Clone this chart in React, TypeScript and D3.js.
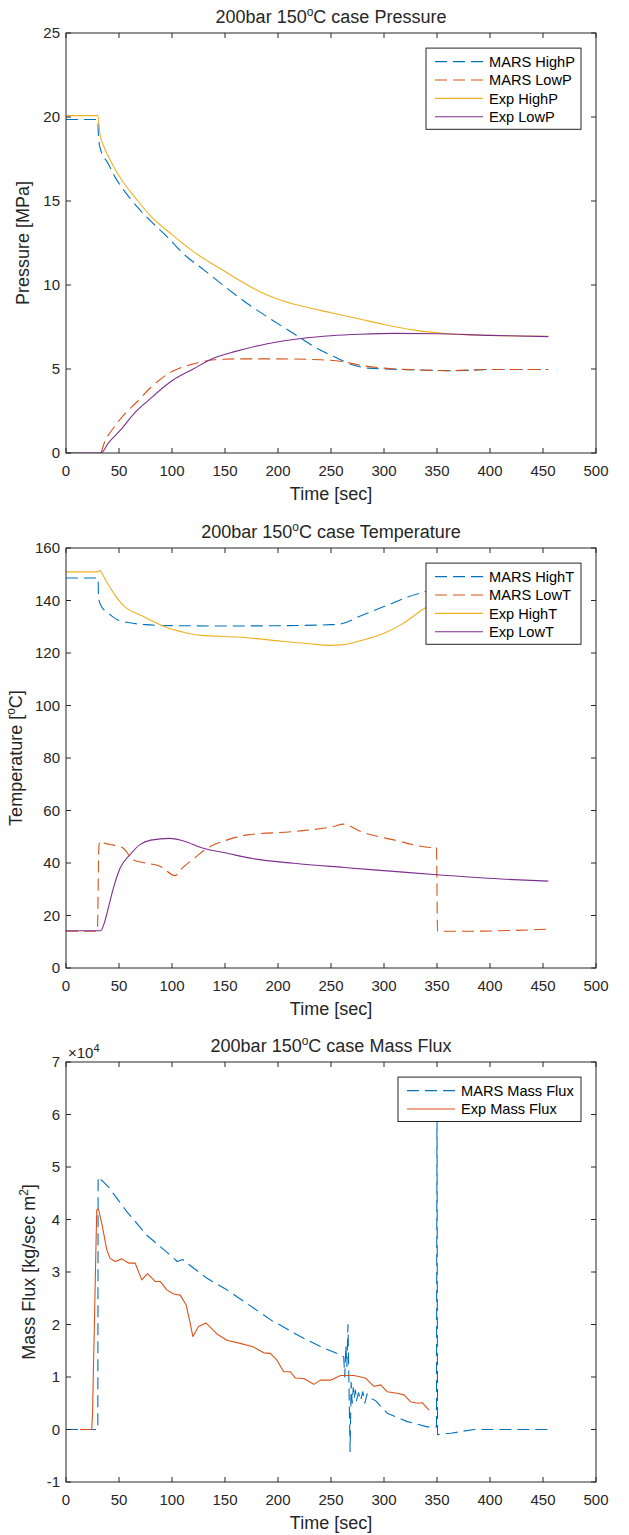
import * as d3 from "d3";

type Pt = [number, number];

const width = 629;
const height = 1535;
const marginLeft = 66;
const marginRight = 33;
const plotHeight = 420;
const font = "'Liberation Sans', Arial, Helvetica, sans-serif";
const ink = "#262626";

const blue = "#0072BD";
const orange = "#D95319";
const yellow = "#EDB120";
const purple = "#7E2F8E";

// tick labels
const timeTicks = [0, 50, 100, 150, 200, 250, 300, 350, 400, 450, 500];
const pressureTicks = [0, 5, 10, 15, 20, 25];
const temperatureTicks = [0, 20, 40, 60, 80, 100, 120, 140, 160];
const fluxTicks = [-1, 0, 1, 2, 3, 4, 5, 6, 7]; // x 10^4

// Pressure [MPa] vs time [sec]
const marsHighP: Pt[] = [
	[0, 19.85], [30, 19.85], [30.5, 19.0], [32, 18.2], [40, 17.2], [46, 16.45], [55, 15.6],
	[67, 14.66], [80, 13.8], [95, 12.9], [110, 11.9], [130, 10.9], [150, 9.9], [171, 8.9],
	[190, 8.1], [215, 7.1], [235, 6.3], [256, 5.64], [270, 5.25], [285, 5.05], [300, 5.0],
	[330, 4.95], [360, 4.9], [380, 4.92], [400, 4.97], [455, 4.97],
];
const marsLowP: Pt[] = [
	[33, 0], [36, 0.58], [45, 1.5], [55, 2.3], [67, 3.05], [80, 3.9], [100, 4.85], [120, 5.3],
	[140, 5.55], [160, 5.6], [200, 5.6], [240, 5.55], [260, 5.45], [280, 5.2], [300, 5.05],
	[330, 4.95], [360, 4.9], [400, 4.97], [455, 4.97],
];
const expHighP: Pt[] = [
	[0, 20.08], [30, 20.08], [32, 19.0], [36, 18.2], [42, 17.4], [50, 16.5], [67, 15.06],
	[80, 14.1], [100, 13.0], [120, 12.0], [150, 10.8], [183, 9.6], [200, 9.15], [225, 8.7],
	[250, 8.35], [278, 7.96], [300, 7.65], [330, 7.3], [360, 7.1], [400, 7.0], [455, 6.95],
];
const expLowP: Pt[] = [
	[0, 0], [33, 0], [40, 0.6], [51.5, 1.37], [65, 2.4], [78, 3.15], [100, 4.3], [120, 5.0],
	[139, 5.64], [160, 6.05], [190, 6.5], [224, 6.83], [250, 6.98], [278, 7.07], [310, 7.12],
	[350, 7.1], [400, 7.0], [455, 6.93],
];

// Temperature [oC] vs time [sec]
const marsHighT: Pt[] = [
	[0, 148.6], [30.3, 148.6], [30.6, 141.6], [33, 138], [40, 135.2], [47, 133], [60, 131.5],
	[75, 130.8], [90, 130.5], [150, 130.3], [200, 130.4], [250, 130.8], [258, 131], [280, 134.5],
	[302, 138], [320, 141], [340, 143.5], [370, 146.5], [400, 148], [455, 149],
];
const marsLowT: Pt[] = [
	[0, 14], [29.6, 14], [31, 46], [32, 48.4], [36.6, 47.5], [45, 46.8], [54, 45.6], [63.5, 41.2],
	[75, 40], [89, 38.7], [103, 35.2], [108, 37.4], [120, 41.5], [133, 45.6], [150, 48.5],
	[171, 50.7], [215, 52], [252, 53.9], [262, 54.8], [278, 52], [309, 48.8], [347, 45.9],
	[349.5, 46], [350.5, 14], [380, 14], [420, 14.3], [455, 14.8],
];
const expHighT: Pt[] = [
	[0, 150.9], [30, 150.9], [32, 151.4], [35, 149.5], [40, 146], [48, 141], [55, 137.8],
	[70.5, 134.4], [85, 131.5], [97, 129.4], [110, 128], [127, 126.7], [165, 126], [203, 124.5],
	[230, 123.5], [249, 122.9], [262, 123.2], [279, 124.8], [300, 127.5], [317, 131],
	[340, 137.4], [370, 142], [400, 145.5], [455, 149],
];
const expLowT: Pt[] = [
	[0, 14.2], [32.8, 14.2], [36, 17], [40, 23], [44.7, 30.4], [51, 38], [60.5, 43.2], [70, 47.1],
	[80, 48.7], [98, 49.4], [110, 48.5], [129.6, 45.6], [152, 43.7], [177, 41.6], [215, 39.9],
	[262, 38.3], [309, 36.8], [350, 35.5], [410, 33.9], [455, 33.1],
];

// Mass flux [x 10^4 kg/sec m^2] vs time [sec]
const marsFlux: Pt[] = [
	[0, 0], [30, 0], [30.3, 4.81], [35, 4.72], [40, 4.62], [50, 4.35], [57.3, 4.15], [65, 3.97],
	[76.2, 3.7], [88, 3.5], [98.3, 3.32], [105, 3.2], [110, 3.24], [114, 3.17], [133, 2.88],
	[151.8, 2.66], [170.7, 2.4], [195.9, 2.05], [202, 1.99], [221, 1.77], [240, 1.58], [259, 1.42],
	[262, 1.38], [263, 1.0], [264, 1.6], [265, 1.2], [266, 2.0], [267, 0.8], [268, -0.42],
	[269, 0.9], [270, 0.5], [271, 0.8], [272, 0.6], [273, 0.75], [274, 0.55], [276, 0.7],
	[278, 0.55], [280, 0.72], [282, 0.5], [284, 0.68], [287, 0.6], [292, 0.55], [303, 0.31],
	[322, 0.15], [341, 0.05], [349.5, 0.05], [350, 6.4], [350.5, -0.1], [355, -0.08],
	[363, -0.07], [385, 0], [455, 0],
];
const expFlux: Pt[] = [
	[13.2, 0], [24.3, 0], [25, 0.28], [26, 1.27], [27, 2.2], [28, 3.23], [29, 4.18], [30.6, 4.2],
	[33.7, 3.93], [38.5, 3.42], [41.6, 3.26], [46.3, 3.2], [52.6, 3.25], [58.9, 3.17], [65.2, 3.17],
	[71.5, 2.85], [76.9, 2.97], [84.1, 2.82], [88.9, 2.82], [95.1, 2.66], [101.4, 2.58],
	[107.7, 2.56], [113.4, 2.37], [117.2, 2.02], [119.7, 1.77], [125, 1.96], [132, 2.03],
	[142.4, 1.82], [151.8, 1.7], [164.4, 1.64], [177, 1.57], [186.5, 1.46], [192.8, 1.45],
	[199, 1.32], [205.4, 1.1], [211.7, 1.1], [216.4, 0.98], [224.3, 0.97], [233.7, 0.86],
	[240, 0.94], [249.5, 0.94], [259, 1.03], [271.6, 1.03], [282.6, 0.98], [290.5, 0.82],
	[296.8, 0.85], [303, 0.72], [312.5, 0.69], [318.8, 0.66], [325, 0.53], [331.4, 0.5],
	[336, 0.51], [342.5, 0.37],
];

type Series = { label: string; data: Pt[]; color: string; dashed: boolean };

// text with a superscript in the middle: before^sup after
const SupText = ({ before, sup, after }: { before: string; sup: string; after: string }) => (
	<>
		<tspan>{before}</tspan>
		<tspan dy={-7} fontSize={12}>
			{sup}
		</tspan>
		<tspan dy={7}>{after}</tspan>
	</>
);

const Panel = ({
	top,
	title,
	ylabel,
	ylabelX,
	yDomain,
	yTicks,
	series,
	legendLeft,
	smooth,
	exponent,
}: {
	top: number;
	title: string;
	ylabel: React.ReactNode;
	ylabelX: number;
	yDomain: [number, number];
	yTicks: number[];
	series: Series[];
	legendLeft: number;
	smooth?: boolean;
	exponent?: boolean;
}) => {
	const bottom = top + plotHeight;
	const xScale = d3.scaleLinear().domain([0, 500]).range([marginLeft, width - marginRight]);
	const yScale = d3.scaleLinear().domain(yDomain).range([bottom, top]);
	const line = d3
		.line<Pt>()
		.x((d) => xScale(d[0]))
		.y((d) => yScale(d[1]))
		.curve(smooth ? d3.curveMonotoneX : d3.curveLinear);
	const x0 = xScale(0);
	const x1 = xScale(500);
	const clipId = `clip-${top}`;
	const tickLen = 5;

	// legend layout
	const legendRight = 581;
	const rowY = (i: number) => top + 28.6 + i * 18.4;
	const legendTop = rowY(0) - 13.5;
	const legendBottom = rowY(series.length - 1) + 12.5;

	return (
		<g fontFamily={font}>
			<defs>
				<clipPath id={clipId}>
					<rect x={x0} y={top} width={x1 - x0} height={plotHeight} />
				</clipPath>
			</defs>

			<g clipPath={`url(#${clipId})`} fill="none">
				{series.map((s) => (
					<path
						key={s.label}
						d={line(s.data) ?? ""}
						stroke={s.color}
						strokeWidth={1.1}
						strokeDasharray={s.dashed ? "12,6" : undefined}
						strokeLinejoin="round"
					/>
				))}
			</g>

			{/* box and ticks */}
			<rect x={x0} y={top} width={x1 - x0} height={plotHeight} fill="none" stroke={ink} strokeWidth={1} />
			{timeTicks.map((t) => (
				<g key={`xt${t}`}>
					<line x1={xScale(t)} x2={xScale(t)} y1={bottom} y2={bottom - tickLen} stroke={ink} />
					<line x1={xScale(t)} x2={xScale(t)} y1={top} y2={top + tickLen} stroke={ink} />
					<text x={xScale(t)} y={bottom + 23} textAnchor="middle" fontSize={15} fill={ink}>
						{t}
					</text>
				</g>
			))}
			{yTicks.map((v) => (
				<g key={`yt${v}`}>
					<line x1={x0} x2={x0 + tickLen} y1={yScale(v)} y2={yScale(v)} stroke={ink} />
					<line x1={x1} x2={x1 - tickLen} y1={yScale(v)} y2={yScale(v)} stroke={ink} />
					<text x={x0 - 6} y={yScale(v) + 5.3} textAnchor="end" fontSize={15} fill={ink}>
						{String(v)}
					</text>
				</g>
			))}
			{exponent && (
				<text x={68} y={top - 4} fontSize={15} fill={ink}>
					<tspan>{"\u00d710"}</tspan>
					<tspan dy={-6} fontSize={11}>
						4
					</tspan>
				</text>
			)}

			{/* labels */}
			<text x={(x0 + x1) / 2} y={top - 10} textAnchor="middle" fontSize={18} fill={ink}>
				<SupText before="200bar 150" sup="o" after={`C case ${title}`} />
			</text>
			<text x={(x0 + x1) / 2} y={bottom + 47} textAnchor="middle" fontSize={18} fill={ink}>
				Time [sec]
			</text>
			<text
				transform={`translate(${ylabelX},${(top + bottom) / 2}) rotate(-90)`}
				textAnchor="middle"
				fontSize={18}
				fill={ink}
			>
				{ylabel}
			</text>

			{/* legend */}
			<rect
				x={legendLeft}
				y={legendTop}
				width={legendRight - legendLeft}
				height={legendBottom - legendTop}
				fill="white"
				stroke={ink}
				strokeWidth={1}
			/>
			{series.map((s, i) => (
				<g key={`lg${s.label}`}>
					<line
						x1={legendLeft + 9}
						x2={legendLeft + 57}
						y1={rowY(i)}
						y2={rowY(i)}
						stroke={s.color}
						strokeWidth={1.1}
						strokeDasharray={s.dashed ? "12,6" : undefined}
					/>
					<text x={legendLeft + 63} y={rowY(i) + 5.2} fontSize={14.6} fill="#000">
						{s.label}
					</text>
				</g>
			))}
		</g>
	);
};

export default function App() {
	return (
		<svg
			width={width}
			height={height}
			viewBox={`0 0 ${width} ${height}`}
			style={{ position: "absolute", left: 0, top: 0, background: "white" }}
		>
			<rect width={width} height={height} fill="white" />
			<Panel
				top={33}
				title="Pressure"
				ylabel="Pressure [MPa]"
				ylabelX={29}
				yDomain={[0, 25]}
				yTicks={pressureTicks}
				legendLeft={426}
				smooth
				series={[
					{ label: "MARS HighP", data: marsHighP, color: blue, dashed: true },
					{ label: "MARS LowP", data: marsLowP, color: orange, dashed: true },
					{ label: "Exp HighP", data: expHighP, color: yellow, dashed: false },
					{ label: "Exp LowP", data: expLowP, color: purple, dashed: false },
				]}
			/>
			<Panel
				top={548}
				title="Temperature"
				ylabel={<SupText before="Temperature [" sup="o" after="C]" />}
				ylabelX={22}
				yDomain={[0, 160]}
				yTicks={temperatureTicks}
				legendLeft={426}
				smooth
				series={[
					{ label: "MARS HighT", data: marsHighT, color: blue, dashed: true },
					{ label: "MARS LowT", data: marsLowT, color: orange, dashed: true },
					{ label: "Exp HighT", data: expHighT, color: yellow, dashed: false },
					{ label: "Exp LowT", data: expLowT, color: purple, dashed: false },
				]}
			/>
			<Panel
				top={1062}
				title="Mass Flux"
				ylabel={<SupText before="Mass Flux [kg/sec m" sup="2" after="]" />}
				ylabelX={35}
				yDomain={[-1, 7]}
				yTicks={fluxTicks}
				legendLeft={398}
				exponent
				series={[
					{ label: "MARS Mass Flux", data: marsFlux, color: blue, dashed: true },
					{ label: "Exp Mass Flux", data: expFlux, color: orange, dashed: false },
				]}
			/>
		</svg>
	);
}
